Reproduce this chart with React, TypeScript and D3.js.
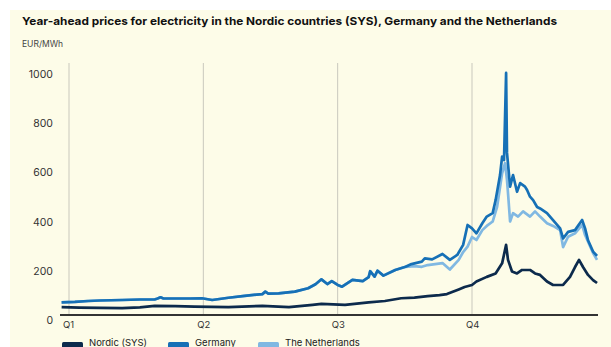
import React from "react";
import * as d3 from "d3";

// ---- data (day index from start of Q1, value EUR/MWh) ----
const quarterLabels = ["Q1", "Q2", "Q3", "Q4"];
const quarterDays = [0, 91, 182, 273];
const yTicks = [0, 200, 400, 600, 800, 1000];
const seriesNames = ["Nordic (SYS)", "Germany", "The Netherlands"];

const germany: [number, number][] = [
  [-5, 51], [4, 53], [13, 57], [21, 59], [36, 61], [48, 63], [58, 63], [60, 67], [62, 72], [64, 67],
  [72, 67], [82, 67], [90, 68], [97, 61], [108, 70], [119, 78], [131, 85], [133, 95], [135, 87],
  [142, 88], [153, 95], [162, 109], [167, 125], [171, 145], [175, 126], [178, 138], [182, 122],
  [185, 115], [192, 143], [199, 138], [203, 154], [204, 178], [207, 156], [209, 180], [213, 160],
  [221, 183], [228, 196], [232, 207], [239, 217], [241, 230], [246, 226], [253, 248], [258, 224],
  [263, 244], [267, 285], [270, 366], [273, 352], [276, 332], [280, 373], [283, 400], [287, 414],
  [289, 467], [292, 569], [293.4, 644], [294.7, 630], [296.1, 984], [296.7, 659], [298.8, 522],
  [300.8, 569], [303.5, 501], [305.6, 536], [308.9, 522], [310.3, 508], [312.3, 481], [314.4, 467],
  [317.1, 439], [319.1, 433], [323.8, 414], [327.9, 386], [332.7, 352], [334.7, 311], [338.1, 338],
  [342.8, 345], [347.6, 386], [349.6, 352], [351.6, 304], [355, 258], [357.7, 240],
];

const netherlands: [number, number][] = [
  [-5, 51], [4, 53], [13, 57], [21, 59], [36, 61], [48, 63], [58, 63], [60, 67], [62, 72], [64, 67],
  [72, 67], [82, 67], [90, 68], [97, 61], [108, 70], [119, 78], [131, 85], [133, 95], [135, 87],
  [142, 88], [153, 95], [162, 109], [167, 125], [171, 145], [175, 126], [178, 138], [182, 122],
  [185, 115], [192, 143], [199, 138], [203, 154], [204, 178], [207, 156], [209, 180], [213, 160],
  [221, 183], [228, 196], [234, 199], [239, 196], [243, 203], [248, 207], [253, 211], [258, 185],
  [264, 224], [267, 256], [270, 278], [273, 317], [276, 305], [280, 345], [283, 362], [287, 380],
  [290, 440], [293.4, 576], [295.4, 617], [296.7, 549], [297.4, 495], [298.8, 380], [300.8, 414],
  [304.2, 400], [307.6, 421], [312.3, 400], [315.7, 421], [319.1, 400], [323.8, 373], [327.9, 362],
  [332.7, 345], [334.7, 276], [338.1, 318], [342.8, 332], [347.6, 366], [349.6, 325], [355, 252],
  [357.7, 224],
];

const nordic: [number, number][] = [
  [-5, 32], [7, 30], [21, 29], [36, 28], [48, 31], [58, 37], [72, 36], [85, 34], [108, 32], [131, 37],
  [149, 32], [165, 41], [171, 45], [187, 41], [203, 51], [214, 57], [225, 68], [234, 71], [243, 77],
  [251, 81], [256, 85], [264, 104], [268, 114], [273, 122], [276, 136], [283, 155], [289, 169],
  [293.4, 210], [296.1, 285], [297.4, 224], [300.1, 177], [303.5, 169], [306.9, 183], [312.3, 183],
  [315.7, 169], [319.1, 163], [323.8, 136], [327.9, 122], [334.7, 122], [339.4, 155], [342.8, 195],
  [345.5, 224], [348.2, 195], [351.6, 163], [355, 142], [357.7, 130],
];

const COLORS = { nordic: "#0c2a4c", germany: "#1670b6", netherlands: "#80b8e2" };
const FONT = "Inter, 'Open Sans', Roboto, sans-serif";

export default function App() {
  const W = 611;
  const H = 347;
  const x = d3.scaleLinear().domain([0, 273]).range([69, 472]);
  const y = d3.scaleLinear().domain([0, 1000]).range([315, 69]);
  const line = d3
    .line<[number, number]>()
    .x((d) => x(d[0]))
    .y((d) => y(d[1]));

  const legendItems = [
    { name: seriesNames[0], color: COLORS.nordic, x: 62 },
    { name: seriesNames[1], color: COLORS.germany, x: 168 },
    { name: seriesNames[2], color: COLORS.netherlands, x: 258 },
  ];

  return (
    <svg
      width={W}
      height={H}
      style={{ position: "absolute", left: 0, top: 0, background: "#fff" }}
      fontFamily={FONT}
    >
      <rect x={10} y={10} width={W - 10} height={H - 10} fill="#fdfce8" />
      <text x={22} y={25} fontSize={11} fontWeight={700} fill="#111" textLength={535} lengthAdjust="spacingAndGlyphs">
        Year-ahead prices for electricity in the Nordic countries (SYS), Germany and the Netherlands
      </text>
      <text x={22} y={47} fontSize={8.5} fill="#444">
        EUR/MWh
      </text>

      {/* vertical quarter gridlines */}
      {quarterDays.map((d, i) => (
        <line key={i} x1={x(d)} x2={x(d)} y1={63} y2={315} stroke="#c9c8bd" strokeWidth={1} />
      ))}

      {/* y tick labels */}
      {yTicks.map((t) => (
        <text key={t} x={53} y={y(t) + 9} fontSize={10.5} fill="#333" textAnchor="end">
          {t}
        </text>
      ))}

      {/* series */}
      <path d={line(netherlands) || ""} fill="none" stroke={COLORS.netherlands} strokeWidth={2.7} strokeLinejoin="round" />
      <path d={line(germany) || ""} fill="none" stroke={COLORS.germany} strokeWidth={2.7} strokeLinejoin="round" />
      <path d={line(nordic) || ""} fill="none" stroke={COLORS.nordic} strokeWidth={2.7} strokeLinejoin="round" />

      {/* x axis */}
      <line x1={60} x2={598} y1={y(0)} y2={y(0)} stroke="#333" strokeWidth={2} />
      {quarterDays.map((d, i) => (
        <text key={i} x={x(d) - 6} y={328} fontSize={9.5} fill="#333">
          {quarterLabels[i]}
        </text>
      ))}

      {/* legend */}
      {legendItems.map((it) => (
        <g key={it.name}>
          <rect x={it.x} y={342} width={21} height={7} rx={1.5} fill={it.color} />
          <text x={it.x + 27} y={346} fontSize={9.5} fill="#222">
            {it.name}
          </text>
        </g>
      ))}
    </svg>
  );
}
